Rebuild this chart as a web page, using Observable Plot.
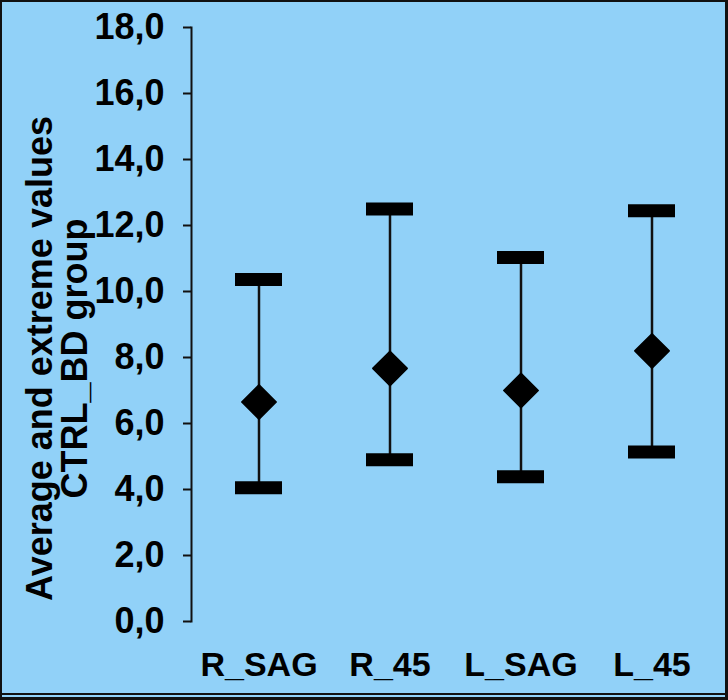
<!DOCTYPE html>
<html>
<head>
<meta charset="utf-8">
<script src="https://cdn.jsdelivr.net/npm/d3@7"></script>
<script src="https://cdn.jsdelivr.net/npm/@observablehq/plot@0.6"></script>
<style>
  html, body { margin: 0; padding: 0; background: #91D1F8; }
  #wrap { position: relative; width: 728px; height: 700px; background: #91D1F8; overflow: hidden; }
  #wrap svg { position: absolute; left: 0; top: 0; }
  .b { position: absolute; background: #111; }
</style>
</head>
<body>
<div id="wrap">
  <div class="b" style="left:0;top:0;width:728px;height:2px"></div>
  <div class="b" style="left:0;top:0;width:2px;height:700px"></div>
  <div class="b" style="right:0;top:0;width:3px;height:700px"></div>
  <div class="b" style="left:0;top:693px;width:728px;height:2px"></div>
  <div class="b" style="left:0;top:697px;width:728px;height:3px"></div>
</div>
<script>
const categories = ["R_SAG", "R_45", "L_SAG", "L_45"];
const means = [6.65, 7.67, 7.0, 8.2];
const maxima = [10.36, 12.5, 11.03, 12.45];
const minima = [4.05, 4.9, 4.39, 5.14];
const yTicks = [0, 2, 4, 6, 8, 10, 12, 14, 16, 18];
const yLabel = "Average and extreme values\nCTRL_BD group";

const data = categories.map((c, i) => ({cat: c, mean: means[i], max: maxima[i], min: minima[i]}));

const font = "'Liberation Sans', Arial, Helvetica, sans-serif";

const chart = Plot.plot({
  width: 728,
  height: 700,
  marginLeft: 191,
  marginRight: 10,
  marginTop: 27,
  marginBottom: 79,
  style: {background: "transparent", fontFamily: font, fontWeight: "bold", color: "#000"},
  x: {domain: categories, type: "band", padding: 0},
  y: {domain: [0, 18]},
  marks: [
    Plot.frame({anchor: "left", stroke: "#111", strokeWidth: 2}),
    Plot.axisY({
      ticks: yTicks,
      tickFormat: d => d.toFixed(1).replace(".", ","),
      tickSize: 8,
      tickPadding: 19,
      fontSize: 36,
      fontWeight: "bold",
      label: null,
      stroke: "#111",
      strokeWidth: 2
    }),
    Plot.axisX({
      tickSize: 0,
      tickPadding: 30,
      fontSize: 34,
      fontWeight: "bold",
      label: null
    }),
    Plot.text([yLabel], {
      frameAnchor: "left",
      textAnchor: "middle",
      rotate: -90,
      dx: -133,
      dy: 34,
      fontSize: 36,
      fontWeight: "bold",
      lineHeight: 0.98,
      fill: "#000"
    }),
    Plot.ruleX(data, {x: "cat", y1: "min", y2: "max", stroke: "#111", strokeWidth: 2.5}),
    Plot.tickY(data, {x: "cat", y: "max", stroke: "#000", strokeWidth: 13, insetLeft: 42, insetRight: 42}),
    Plot.tickY(data, {x: "cat", y: "min", stroke: "#000", strokeWidth: 13, insetLeft: 42, insetRight: 42}),
    Plot.dot(data, {x: "cat", y: "mean", symbol: "diamond2", r: 15.5, fill: "#000", stroke: "#000", strokeWidth: 1.5, strokeLinejoin: "round"})
  ]
});

document.getElementById("wrap").insertBefore(chart, document.getElementById("wrap").firstChild);
</script>
</body>
</html>
